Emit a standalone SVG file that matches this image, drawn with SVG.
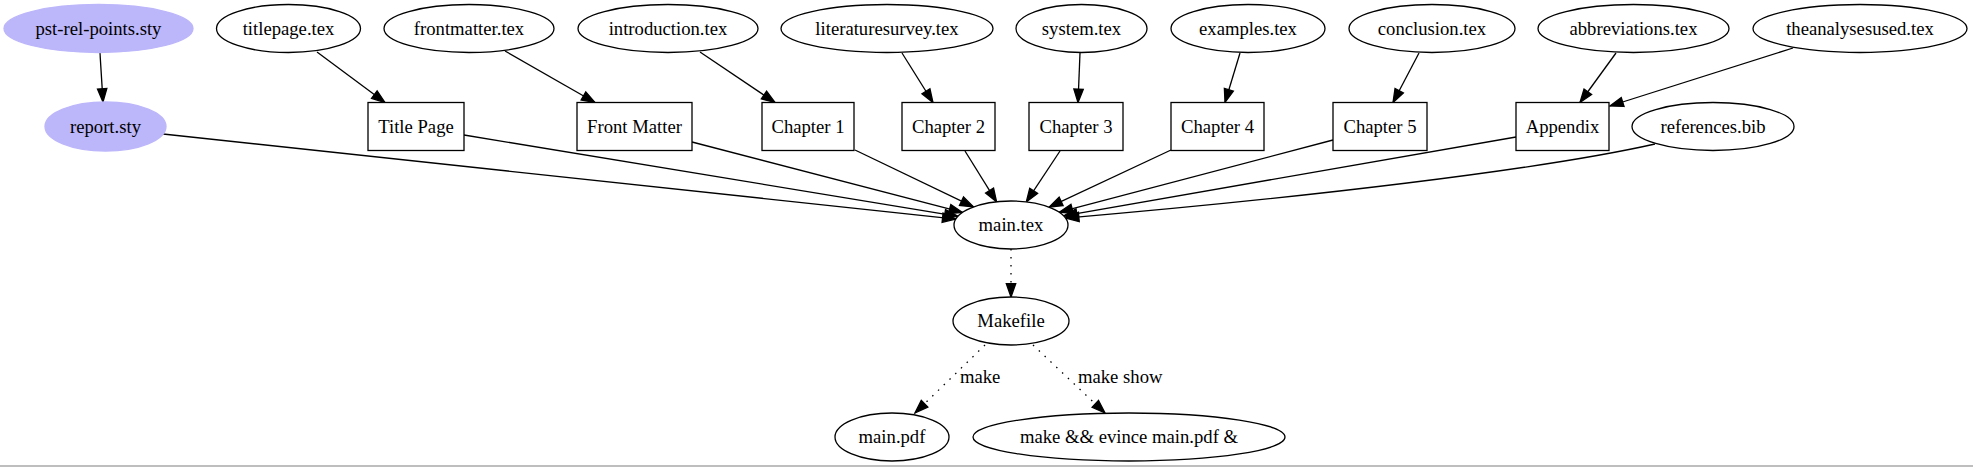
<svg xmlns="http://www.w3.org/2000/svg" width="1973" height="467" viewBox="0 0 1973 467">
<style>
  text { font-family: "Liberation Serif", "Times New Roman", serif; font-size: 18.67px; text-anchor: middle; fill: #000; }
  .n { fill: #fff; stroke: #000; stroke-width: 1.3; }
  .p { fill: #bcb6fa; stroke: #bcb6fa; stroke-width: 1.3; }
  .e { fill: none; stroke: #000; stroke-width: 1.3; marker-end: url(#ah); }
  .d { stroke-dasharray: 1.5 6.5; }
  .lbl { text-anchor: start; }
</style>
<defs>
  <marker id="ah" markerUnits="userSpaceOnUse" markerWidth="16" markerHeight="12" refX="13.3" refY="5" orient="auto" overflow="visible">
    <polygon points="0,0.3 13.3,5 0,9.7" fill="#000" stroke="#000" stroke-width="1.3" stroke-dasharray="none"/>
  </marker>
</defs>
<rect x="0" y="0" width="1973" height="467" fill="#fff"/>
<line x1="0" y1="466" x2="1973" y2="466" stroke="#a8a8a8" stroke-width="1.3"/>

<g id="connectors">
  <path class="e" d="M100,53 L103,102"/>
  <path class="e" d="M317,52 L385,102.5"/>
  <path class="e" d="M505,51 L595,102.5"/>
  <path class="e" d="M700,52 L775,102.5"/>
  <path class="e" d="M902,53 L933,102.5"/>
  <path class="e" d="M1080,53 L1078,102.5"/>
  <path class="e" d="M1240,53 L1225,102.5"/>
  <path class="e" d="M1419,53 L1393,102.5"/>
  <path class="e" d="M1616,53 L1580,102.5"/>
  <path class="e" d="M1793,48 L1610,106"/>

  <path class="e" d="M163,134 L955.8,219.1"/>
  <path class="e" d="M464,135 L957.9,216.3"/>
  <path class="e" d="M692,142 L962.5,212.4"/>
  <path class="e" d="M855,150 L973.5,206.9"/>
  <path class="e" d="M965,151 L996.6,201.8"/>
  <path class="e" d="M1060,151 L1026.3,201.9"/>
  <path class="e" d="M1171,150 L1049.1,207.1"/>
  <path class="e" d="M1333,140 L1059.3,212.2"/>
  <path class="e" d="M1516,137 L1063.7,215.8"/>
  <path class="e" d="M1655,144 C1540,170 1300,198 1065.6,218.1"/>

  <path class="e d" d="M1011,249 L1011,297"/>
  <path class="e d" d="M985,345 L915,413"/>
  <path class="e d" d="M1033,345 L1105,413"/>
  <text class="lbl" x="960" y="383">make</text>
  <text class="lbl" x="1078" y="383">make show</text>
</g>

<g id="pst-rel-points"><ellipse class="p" cx="98.5" cy="28.5" rx="94.5" ry="24"/><text x="98.5" y="34.5">pst-rel-points.sty</text></g>
<g id="titlepage-tex"><ellipse class="n" cx="288.5" cy="28.5" rx="72" ry="24"/><text x="288.5" y="34.5">titlepage.tex</text></g>
<g id="frontmatter-tex"><ellipse class="n" cx="469" cy="28.5" rx="85" ry="24"/><text x="469" y="34.5">frontmatter.tex</text></g>
<g id="introduction-tex"><ellipse class="n" cx="668" cy="28.5" rx="90" ry="24"/><text x="668" y="34.5">introduction.tex</text></g>
<g id="literaturesurvey-tex"><ellipse class="n" cx="887" cy="28.5" rx="106" ry="24"/><text x="887" y="34.5">literaturesurvey.tex</text></g>
<g id="system-tex"><ellipse class="n" cx="1081.5" cy="28.5" rx="65.5" ry="24"/><text x="1081.5" y="34.5">system.tex</text></g>
<g id="examples-tex"><ellipse class="n" cx="1248" cy="28.5" rx="77" ry="24"/><text x="1248" y="34.5">examples.tex</text></g>
<g id="conclusion-tex"><ellipse class="n" cx="1432" cy="28.5" rx="83" ry="24"/><text x="1432" y="34.5">conclusion.tex</text></g>
<g id="abbreviations-tex"><ellipse class="n" cx="1633.5" cy="28.5" rx="95.5" ry="24"/><text x="1633.5" y="34.5">abbreviations.tex</text></g>
<g id="theanalysesused-tex"><ellipse class="n" cx="1860" cy="28.5" rx="107" ry="24"/><text x="1860" y="34.5">theanalysesused.tex</text></g>

<g id="report-sty"><ellipse class="p" cx="105.5" cy="126.5" rx="60.5" ry="24.5"/><text x="105.5" y="132.5">report.sty</text></g>
<g id="title-page"><rect class="n" x="368" y="102.5" width="96" height="48"/><text x="416" y="132.5">Title Page</text></g>
<g id="front-matter"><rect class="n" x="577" y="102.5" width="115" height="48"/><text x="634.5" y="132.5">Front Matter</text></g>
<g id="chapter1"><rect class="n" x="762" y="102.5" width="92" height="48"/><text x="808" y="132.5">Chapter 1</text></g>
<g id="chapter2"><rect class="n" x="902" y="102.5" width="93" height="48"/><text x="948.5" y="132.5">Chapter 2</text></g>
<g id="chapter3"><rect class="n" x="1029" y="102.5" width="94" height="48"/><text x="1076" y="132.5">Chapter 3</text></g>
<g id="chapter4"><rect class="n" x="1171" y="102.5" width="93" height="48"/><text x="1217.5" y="132.5">Chapter 4</text></g>
<g id="chapter5"><rect class="n" x="1333" y="102.5" width="94" height="48"/><text x="1380" y="132.5">Chapter 5</text></g>
<g id="appendix"><rect class="n" x="1516" y="102.5" width="93" height="48"/><text x="1562.5" y="132.5">Appendix</text></g>
<g id="references-bib"><ellipse class="n" cx="1713" cy="126.5" rx="81" ry="24"/><text x="1713" y="132.5">references.bib</text></g>

<g id="main-tex"><ellipse class="n" cx="1011" cy="225" rx="57" ry="24"/><text x="1011" y="231">main.tex</text></g>
<g id="makefile"><ellipse class="n" cx="1011" cy="321" rx="58" ry="24"/><text x="1011" y="327">Makefile</text></g>
<g id="main-pdf"><ellipse class="n" cx="892" cy="437" rx="57" ry="24"/><text x="892" y="443">main.pdf</text></g>
<g id="make-show"><ellipse class="n" cx="1129" cy="437" rx="156" ry="24"/><text x="1129" y="443">make &amp;&amp; evince main.pdf &amp;</text></g>
</svg>
